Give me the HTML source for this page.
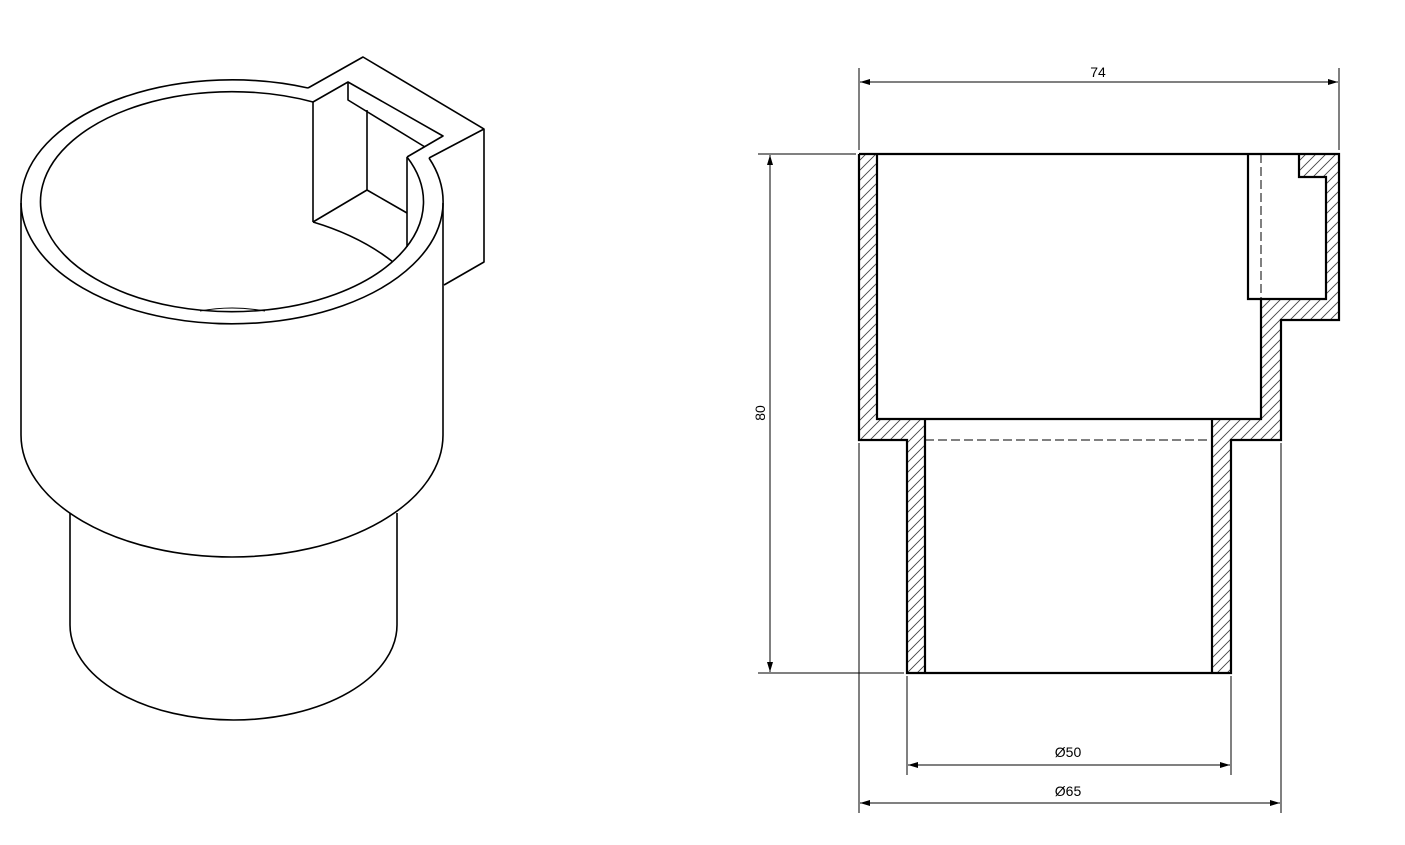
<!DOCTYPE html>
<html><head><meta charset="utf-8"><style>html,body{margin:0;padding:0;background:#fff}svg{display:block}</style></head>
<body>
<svg width="1405" height="845" viewBox="0 0 1405 845" xmlns="http://www.w3.org/2000/svg">
<defs>
<pattern id="h" patternUnits="userSpaceOnUse" width="10" height="10">
<path d="M-2,12 L12,-2 M-2,2 L2,-2 M8,12 L12,8" stroke="#444" stroke-width="0.9"/>
</pattern>
<marker id="a" viewBox="0 0 10 6" refX="10" refY="3" markerWidth="10" markerHeight="6" orient="auto-start-reverse" markerUnits="userSpaceOnUse">
<path d="M0,0 L10,3 L0,6 z" fill="#000"/>
</marker>
</defs>

<!-- ISO VIEW -->
<g fill="none" stroke="#000" stroke-width="1.6" stroke-linejoin="round">
<path d="M429,158 A211,122 0 1,1 308,88"/>
<path d="M407,157 A191.5,110 0 1,1 313,102"/>
<line x1="21" y1="203" x2="21" y2="435"/>
<line x1="443" y1="203" x2="443" y2="435"/>
<path d="M21,435 A211,122 0 0,0 443,435"/>
<line x1="70" y1="513" x2="70" y2="625"/>
<line x1="397" y1="513" x2="397" y2="625"/>
<path d="M70,625 A163.5,95 0 0,0 397,625"/>
<path d="M200,311 Q232,305 265,311" stroke-width="1"/>
<!-- bracket -->
<polyline points="308,88 363,57 484,129 484,262 444,285"/>
<polyline points="429,158 484,129"/>
<polyline points="313,102 348,82 443,136 407,157"/>
<polyline points="348,82 348,100 425,147"/>
<line x1="313" y1="102" x2="313" y2="222"/>
<line x1="367" y1="110" x2="367" y2="190"/>
<polyline points="313,222 367,190 407,213"/>
<line x1="407" y1="157" x2="407" y2="247"/>
<path d="M313,222 Q360,236 393,262"/>
</g>

<!-- SECTION -->
<g fill="url(#h)" stroke="none">
<polygon points="859,154 877,154 877,419 907,419 925,419 925,673 907,673 907,440 859,440"/>
<polygon points="1212,419 1261,419 1261,299 1326,299 1326,177 1299,177 1299,154 1339,154 1339,320 1281,320 1281,440 1231,440 1231,673 1212,673"/>
</g>
<rect x="1248" y="154" width="13" height="145" fill="#fff"/>
<g fill="none" stroke="#000" stroke-width="2.2" stroke-linejoin="miter">
<polyline points="859,154 1339,154 1339,320 1281,320 1281,440 1231,440 1231,673 907,673 907,440 859,440 859,154"/>
<polyline points="877,154 877,419 1261,419 1261,299 1248,299 1248,154"/>
<polyline points="1261,299 1326,299 1326,177 1299,177 1299,154"/>
<line x1="925" y1="419" x2="925" y2="673"/>
<line x1="1212" y1="419" x2="1212" y2="673"/>
</g>
<g stroke="#000" stroke-width="1" fill="none" stroke-dasharray="9,4">
<line x1="1261" y1="154" x2="1261" y2="299"/>
<line x1="925" y1="440" x2="1212" y2="440"/>
</g>

<!-- DIMENSIONS -->
<g stroke="#000" stroke-width="1" fill="none">
<line x1="859" y1="68" x2="859" y2="150"/>
<line x1="1339" y1="68" x2="1339" y2="150"/>
<line x1="860" y1="82" x2="1338" y2="82" marker-start="url(#a)" marker-end="url(#a)"/>
<line x1="758" y1="154" x2="856" y2="154"/>
<line x1="758" y1="673" x2="904" y2="673"/>
<line x1="770" y1="155" x2="770" y2="672" marker-start="url(#a)" marker-end="url(#a)"/>
<line x1="907" y1="676" x2="907" y2="775"/>
<line x1="1231" y1="676" x2="1231" y2="775"/>
<line x1="908" y1="765" x2="1230" y2="765" marker-start="url(#a)" marker-end="url(#a)"/>
<line x1="859" y1="443" x2="859" y2="813"/>
<line x1="1281" y1="443" x2="1281" y2="813"/>
<line x1="860" y1="803" x2="1280" y2="803" marker-start="url(#a)" marker-end="url(#a)"/>
</g>
<g font-family="Liberation Sans, sans-serif" font-size="14" fill="#000" text-anchor="middle">
<text x="1098" y="77">74</text>
<text x="0" y="0" transform="translate(765,413) rotate(-90)">80</text>
<text x="1068" y="757">Ø50</text>
<text x="1068" y="796">Ø65</text>
</g>
</svg>
</body></html>
